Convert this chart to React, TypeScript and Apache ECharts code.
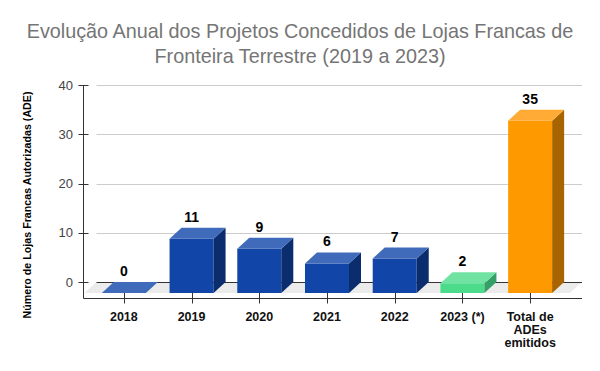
import React, { useEffect, useRef } from "react";
import * as echarts from "echarts";

const titleText =
  "Evolução Anual dos Projetos Concedidos de Lojas Francas de\nFronteira Terrestre (2019 a 2023)";
const yAxisTitle = "Número de Lojas Francas Autorizadas (ADE)";
const categories = ["2018", "2019", "2020", "2021", "2022", "2023 (*)", "Total de\nADEs\nemitidos"];
const values = [0, 11, 9, 6, 7, 2, 35];
// 0 = annual, 1 = partial year, 2 = total
const barGroups = [0, 0, 0, 0, 0, 1, 2];
const yTicks = [0, 10, 20, 30, 40];

const PALETTE = [
  { front: "#1245a8", top: "#3f6bba", side: "#0c2d6d" },
  { front: "#4cdb8a", top: "#70e3a2", side: "#35a065" },
  { front: "#ff9900", top: "#ffab35", side: "#a86400" },
];
const DX = 12;
const DY = 11;
const FONT = '"Liberation Sans", Arial, sans-serif';
const px = (v: number) => Math.round(v) + 0.5;

export default function App() {
  const ref = useRef<HTMLDivElement>(null);
  useEffect(() => {
    document.body.style.margin = "0";
    const chart = echarts.init(ref.current!, null, { renderer: "svg" });
    const n = categories.length;

    const frameRender = (_params: any, api: any) => {
      const band = api.size([1, 0])[0];
      const first = api.coord([0, 0]);
      const last = api.coord([n - 1, 0]);
      const topY = api.coord([0, yTicks[yTicks.length - 1]])[1];
      const axisX = px(first[0] - band / 2 - 7);
      const floorL = axisX + 1;
      const floorR = last[0] + band / 2 + 6;
      const zeroY = first[1];
      const frontY = zeroY + DY;
      const axisY = px(frontY + 5);
      const line = (x1: number, y1: number, x2: number, y2: number, stroke: string) => ({
        type: "line",
        shape: { x1, y1, x2, y2 },
        style: { stroke, lineWidth: 1 },
      });
      const children: any[] = [];
      children.push({
        type: "polygon",
        shape: {
          points: [
            [floorL, frontY],
            [floorR, frontY],
            [floorR + DX, zeroY],
            [floorL + DX, zeroY],
          ],
        },
        style: { fill: "#ebebeb" },
      });
      yTicks.forEach((t) => {
        const y = px(api.coord([0, t])[1]);
        children.push(line(floorL + DX, y, floorR + DX, y, t === 0 ? "#333333" : "#cccccc"));
        children.push(line(axisX - 5, y, axisX + 5, y, "#333333"));
      });
      children.push(line(axisX, px(topY), axisX, axisY, "#333333"));
      children.push(line(axisX, axisY, floorR + DX, axisY, "#333333"));
      categories.forEach((_c, i) => {
        const x = px(api.coord([i, 0])[0]);
        children.push(line(x, frontY - 1, x, axisY + 5, "#333333"));
      });
      return { type: "group", children };
    };

    const barRender = (_params: any, api: any) => {
      const i = api.value(0);
      const v = api.value(1);
      const pal = PALETTE[api.value(2)];
      const band = api.size([1, 0])[0];
      const w = band * 0.65;
      const b = api.coord([i, 0]);
      const t = api.coord([i, v]);
      const x0 = b[0] - w / 2;
      const x1 = b[0] + w / 2;
      const yb = b[1] + DY;
      const yt = t[1] + DY;
      return {
        type: "group",
        children: [
          { type: "rect", shape: { x: x0, y: yt, width: w, height: yb - yt }, style: { fill: pal.front } },
          {
            type: "polygon",
            shape: { points: [[x1, yt], [x1 + DX, yt - DY], [x1 + DX, yb - DY], [x1, yb]] },
            style: { fill: pal.side },
          },
          {
            type: "polygon",
            shape: { points: [[x0, yt], [x1, yt], [x1 + DX, yt - DY], [x0 + DX, yt - DY]] },
            style: { fill: pal.top },
          },
          {
            type: "text",
            x: b[0],
            y: t[1] - 11,
            style: {
              text: String(v),
              align: "center",
              verticalAlign: "middle",
              fontSize: 14,
              fontWeight: "bold",
              fontFamily: FONT,
              fill: "#000000",
            },
          },
        ],
      };
    };

    chart.setOption({
      animation: false,
      grid: { left: 90, right: 36, top: 85, bottom: 89 },
      xAxis: {
        type: "category",
        data: categories,
        offset: 16,
        axisLine: { show: false },
        axisTick: { show: false },
        splitLine: { show: false },
        axisLabel: {
          interval: 0,
          margin: 12,
          fontSize: 12.5,
          fontWeight: "bold",
          color: "#111111",
          fontFamily: FONT,
          lineHeight: 13,
        },
      },
      yAxis: {
        type: "value",
        min: 0,
        max: 40,
        interval: 10,
        offset: 7,
        axisLine: { show: false },
        axisTick: { show: false },
        splitLine: { show: false },
        axisLabel: { margin: 10, fontSize: 13, color: "#444444", fontFamily: FONT },
      },
      graphic: [
        {
          type: "text",
          x: 300,
          y: 18.5,
          style: {
            text: titleText,
            align: "center",
            verticalAlign: "top",
            fontSize: 19.8,
            lineHeight: 25,
            fontFamily: FONT,
            fill: "#757575",
          },
        },
        {
          type: "text",
          x: 27,
          y: 205,
          rotation: Math.PI / 2,
          style: {
            text: yAxisTitle,
            align: "center",
            verticalAlign: "middle",
            fontSize: 10.7,
            fontWeight: "bold",
            fontFamily: FONT,
            fill: "#000000",
          },
        },
      ],
      series: [
        { type: "custom", renderItem: frameRender, data: [[0, 0]], z: 1, silent: true },
        {
          type: "custom",
          renderItem: barRender,
          data: values.map((v, i) => [i, v, barGroups[i]]),
          z: 2,
        },
      ],
    });
    return () => chart.dispose();
  }, []);
  return <div ref={ref} style={{ width: 600, height: 371 }} />;
}
